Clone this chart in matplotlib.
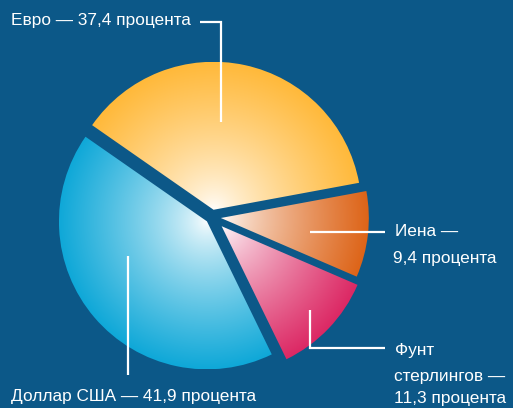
import numpy as np
import matplotlib.pyplot as plt
from matplotlib.colors import to_rgb

plt.rcParams['font.family'] = ['Liberation Sans', 'DejaVu Sans']

# data
labels = ['Евро', 'Доллар США', 'Фунт стерлингов', 'Иена']
shares = [37.4, 41.9, 11.3, 9.4]
colors = ['#ffb93a', '#0fa8d8', '#dc2864', '#dd6418']
explode_frac = [0.05, 0.045, 0.09, 0.06]

bg = '#0c5888'
W, H = 513, 408
R = 148

fig = plt.figure(figsize=(W / 100, H / 100), dpi=100, facecolor=bg)
ax = fig.add_axes([0, 0, 1, 1])
ax.set_facecolor(bg)

# pie explode is in data units, so scale by the radius
wedges, _ = ax.pie(shares, explode=[e * R for e in explode_frac], startangle=10.5,
                   counterclock=True, center=(212, H - 217), radius=R,
                   colors=colors, wedgeprops=dict(linewidth=0))

# radial white-to-colour gradient inside every wedge
for w, col in zip(wedges, colors):
    cx, cy = w.center
    r = w.r
    xs = np.linspace(cx - r, cx + r, 400)
    ys = np.linspace(cy - r, cy + r, 400)
    X, Y = np.meshgrid(xs, ys)
    t = np.clip(np.hypot(X - cx, Y - cy) / r, 0, 1) ** 0.75
    rgb = np.array(to_rgb(col))
    img = 1 - t[..., None] * (1 - rgb)
    im = ax.imshow(img, extent=(cx - r, cx + r, cy - r, cy + r), origin='lower',
                   interpolation='bilinear', zorder=1)
    im.set_clip_path(w)
    w.set_facecolor('none')

ax.set_xlim(0, W)
ax.set_ylim(0, H)
ax.set_aspect('auto')
ax.axis('off')


def line(xs, ys):
    ax.plot(xs, [H - y for y in ys], color='white', lw=1.6, zorder=3,
            solid_capstyle='butt', solid_joinstyle='miter')


def label(x, y, s):
    ax.text(x, H - y, s, color='white', fontsize=12.4, ha='left', va='center', zorder=4)


# Euro
line([200, 221, 221], [22, 22, 122])
label(11, 20, 'Евро — 37,4 процента')
# Yen
line([310, 385], [232, 232])
label(395, 232, 'Иена —')
label(393, 258, '9,4 процента')
# Pound
line([310, 310, 385], [310, 348, 348])
label(395, 350, 'Фунт')
label(394, 376, 'стерлингов —')
label(394, 399, '11,3 процента')
# Dollar
line([128, 128], [256, 375])
label(11, 397, 'Доллар США — 41,9 процента')

fig.savefig('out.png', dpi=100, facecolor=bg)
